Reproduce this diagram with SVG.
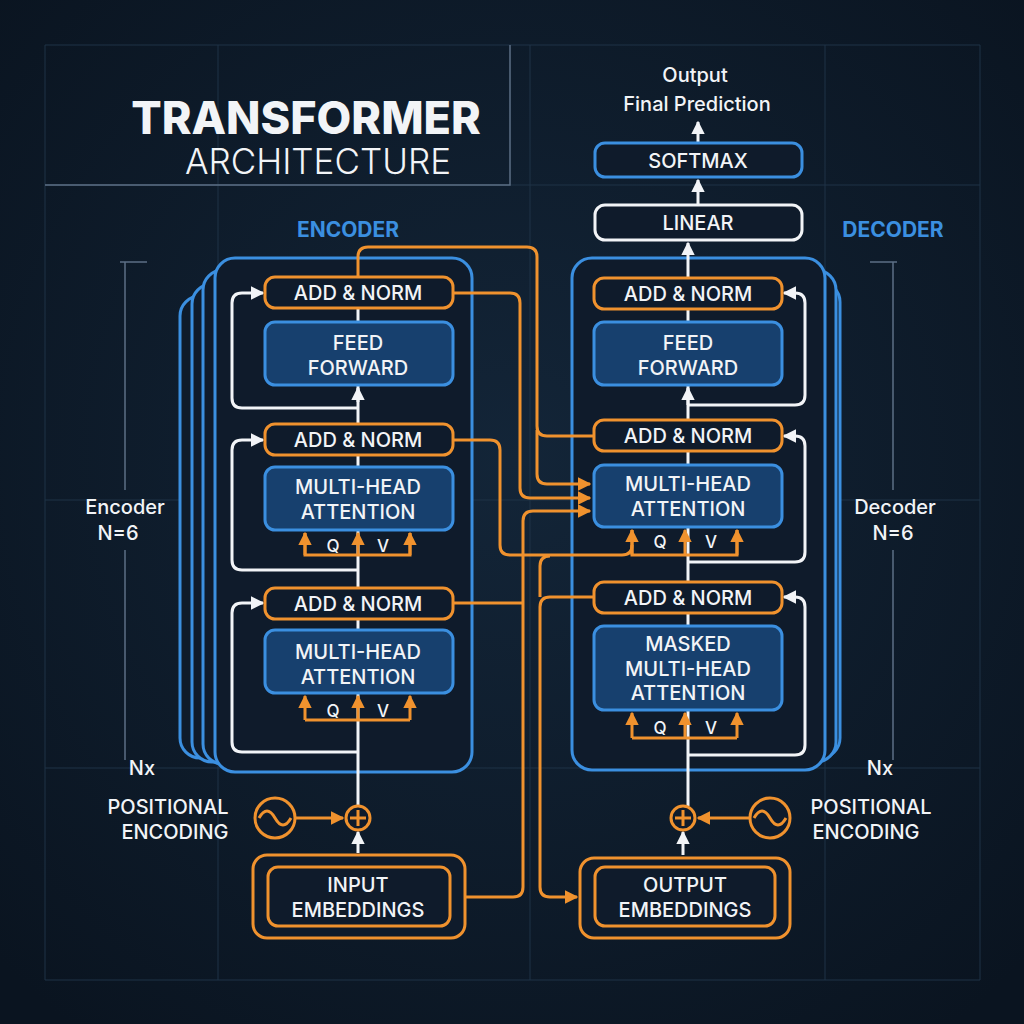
<svg xmlns="http://www.w3.org/2000/svg" width="1024" height="1024" viewBox="0 0 1024 1024">
<defs>
<style>
text{font-family:"Inter","Liberation Sans",sans-serif;fill:#f2f4f7;text-anchor:middle;font-weight:500}
.lbl{font-size:20px}
.side{font-size:20px}
.an{fill:#0f1b2b;stroke:#f0922e;stroke-width:3}
.bl{fill:#17406e;stroke:#3b8fe0;stroke-width:3}
.stk{fill:#0f1b2b;stroke:#3b8fe0;stroke-width:3}
.o{fill:none;stroke:#f0922e;stroke-width:3}
.w{fill:none;stroke:#f2f4f7;stroke-width:3}
.g{stroke:#1f3247;stroke-width:1}
.gb{stroke:#5c6f85;stroke-width:1.5;fill:none}
</style>
<marker id="ao" viewBox="0 0 10 10" refX="9" refY="5" markerWidth="4.5" markerHeight="4.5" orient="auto"><path d="M0,0L10,5L0,10z" fill="#f0922e"/></marker>
<marker id="aw" viewBox="0 0 10 10" refX="9" refY="5" markerWidth="4.5" markerHeight="4.5" orient="auto"><path d="M0,0L10,5L0,10z" fill="#f2f4f7"/></marker>
<radialGradient id="bg" cx="50%" cy="45%" r="70%"><stop offset="0" stop-color="#132538"/><stop offset="1" stop-color="#0a1420"/></radialGradient>
</defs>
<rect width="1024" height="1024" fill="url(#bg)"/>
<g id="grid">
<path class="g" d="M45 185H980M45 500H980M45 768H980M218 45V980M530 45V980M825 45V980M45 45H980V980H45Z" fill="none"/>
<path class="gb" d="M45 185H510V45"/>
</g>
<g id="title">
<text x="306" y="134" style="font-size:45px;font-weight:800">TRANSFORMER</text>
<text x="318" y="174" style="font-size:35px;font-weight:300">ARCHITECTURE</text>
</g>
<g id="enc-label"><text x="348" y="237" style="font-size:21px;font-weight:700;fill:#3b8fe0">ENCODER</text></g>
<g id="dec-label"><text x="893" y="237" style="font-size:21px;font-weight:700;fill:#3b8fe0">DECODER</text></g>
<g id="enc-side">
<path class="gb" d="M120 262H147M125 262V490M125 550V760"/>
<text class="side" x="125" y="514">Encoder</text><text class="side" x="118" y="540">N=6</text>
<text class="side" x="142" y="775">Nx</text>
</g>
<g id="dec-side">
<path class="gb" d="M870 262H897M893 262V490M893 550V760"/>
<text class="side" x="895" y="514">Decoder</text><text class="side" x="893" y="540">N=6</text>
<text class="side" x="880" y="775">Nx</text>
</g>
<g id="enc-stack">
<rect class="stk" x="180" y="296" width="260" height="462" rx="20"/>
<rect class="stk" x="192" y="284" width="265" height="478" rx="20"/>
<rect class="stk" x="203" y="270" width="268" height="494" rx="20"/>
<rect class="stk" x="215" y="258" width="257" height="514" rx="20"/>
</g>
<g id="dec-stack">
<rect class="stk" x="585" y="282" width="255" height="476" rx="20"/>
<rect class="stk" x="578" y="270" width="258" height="492" rx="20"/>
<rect class="stk" x="572" y="258" width="253" height="512" rx="20"/>
</g>
<g id="connectors">
<path class="w" d="M358 806V308"/>
<path class="w" d="M358 402V388" marker-end="url(#aw)"/>
<path class="w" d="M358 408H242Q232 408 232 398V303Q232 293 242 293H263" marker-end="url(#aw)"/>
<path class="w" d="M358 570H242Q232 570 232 560V450Q232 440 242 440H263" marker-end="url(#aw)"/>
<path class="w" d="M358 752H242Q232 752 232 742V613Q232 603 242 603H263" marker-end="url(#aw)"/>
<path class="w" d="M358 853V832" marker-end="url(#aw)"/>
<path class="w" d="M688 806V308"/>
<path class="w" d="M688 278V243" marker-end="url(#aw)"/>
<path class="w" d="M688 405V388" marker-end="url(#aw)"/>
<path class="w" d="M698 205V180" marker-end="url(#aw)"/>
<path class="w" d="M698 143V122" marker-end="url(#aw)"/>
<path class="w" d="M688 405H795Q805 405 805 395V303Q805 293 795 293H784" marker-end="url(#aw)"/>
<path class="w" d="M688 562H795Q805 562 805 552V446Q805 436 795 436H784" marker-end="url(#aw)"/>
<path class="w" d="M688 755H795Q805 755 805 745V607Q805 597 795 597H784" marker-end="url(#aw)"/>
<path class="w" d="M683 855V832" marker-end="url(#aw)"/>
<path class="o" d="M296 818H343" marker-end="url(#ao)"/>
<path class="o" d="M749 818H698" marker-end="url(#ao)"/>
<path class="o" d="M305 533V555H410V533"/>
<path class="o" d="M305 555V533" marker-end="url(#ao)"/>
<path class="o" d="M358 555V533" marker-end="url(#ao)"/>
<path class="o" d="M410 555V533" marker-end="url(#ao)"/>
<path class="o" d="M305 720H410"/>
<path class="o" d="M305 720V696" marker-end="url(#ao)"/>
<path class="o" d="M358 720V696" marker-end="url(#ao)"/>
<path class="o" d="M410 720V696" marker-end="url(#ao)"/>
<path class="o" d="M632 530V555H737V530"/>
<path class="o" d="M632 555V530" marker-end="url(#ao)"/>
<path class="o" d="M685 555V530" marker-end="url(#ao)"/>
<path class="o" d="M737 555V530" marker-end="url(#ao)"/>
<path class="o" d="M632 738H737"/>
<path class="o" d="M632 738V713" marker-end="url(#ao)"/>
<path class="o" d="M685 738V713" marker-end="url(#ao)"/>
<path class="o" d="M737 738V713" marker-end="url(#ao)"/>
<path class="o" d="M358 277V257Q358 247 368 247H527Q537 247 537 257V426Q537 436 547 436H594"/>
<path class="o" d="M537 430V474Q537 484 547 484H590" marker-end="url(#ao)"/>
<path class="o" d="M453 293H510Q520 293 520 303V488Q520 498 530 498H590" marker-end="url(#ao)"/>
<path class="o" d="M453 440H490Q500 440 500 450V545Q500 555 510 555H622Q632 555 632 545"/>
<path class="o" d="M465 897H513Q523 897 523 887V521Q523 511 533 511H590" marker-end="url(#ao)"/>
<path class="o" d="M453 603H523"/>
<path class="o" d="M594 597H550Q540 597 540 607V887Q540 897 550 897H577" marker-end="url(#ao)"/>
<path class="o" d="M540 597V566Q540 556 550 556"/>
</g>
<g id="enc-addnorm3"><rect class="an" x="265" y="277" width="188" height="31" rx="10"/><text class="lbl" x="358" y="300">ADD &amp; NORM</text></g>
<g id="enc-ff"><rect class="bl" x="265" y="322" width="188" height="63" rx="10"/><text class="lbl" x="358" y="350">FEED</text><text class="lbl" x="358" y="375">FORWARD</text></g>
<g id="enc-addnorm2"><rect class="an" x="265" y="424" width="188" height="31" rx="10"/><text class="lbl" x="358" y="447">ADD &amp; NORM</text></g>
<g id="enc-mha2"><rect class="bl" x="265" y="467" width="188" height="63" rx="10"/><text class="lbl" x="358" y="494">MULTI-HEAD</text><text class="lbl" x="358" y="519">ATTENTION</text></g>
<g id="enc-qv1"><text class="lbl" x="333" y="552" style="font-size:17px">Q</text><text class="lbl" x="383" y="552" style="font-size:17px">V</text></g>
<g id="enc-addnorm1"><rect class="an" x="265" y="588" width="188" height="31" rx="10"/><text class="lbl" x="358" y="611">ADD &amp; NORM</text></g>
<g id="enc-mha1"><rect class="bl" x="265" y="630" width="188" height="63" rx="10"/><text class="lbl" x="358" y="659">MULTI-HEAD</text><text class="lbl" x="358" y="684">ATTENTION</text></g>
<g id="enc-qv2"><text class="lbl" x="333" y="717" style="font-size:17px">Q</text><text class="lbl" x="383" y="717" style="font-size:17px">V</text></g>
<g id="enc-plus"><circle cx="358" cy="818" r="12" fill="#0f1b2b" stroke="#f0922e" stroke-width="3"/><path class="o" d="M350 818H366M358 810V826"/></g>
<g id="enc-pe"><circle cx="275" cy="818" r="20" fill="#0f1b2b" stroke="#f0922e" stroke-width="3"/><path class="o" d="M259 818Q267 804 275 818T291 818"/>
<text class="lbl" x="168" y="814">POSITIONAL</text><text class="lbl" x="175" y="839">ENCODING</text></g>
<g id="enc-emb"><rect class="an" x="253" y="855" width="212" height="83" rx="14"/><rect class="an" x="268" y="867" width="182" height="59" rx="10"/><text class="lbl" x="358" y="892">INPUT</text><text class="lbl" x="358" y="917">EMBEDDINGS</text></g>
<g id="dec-addnorm3"><rect class="an" x="594" y="278" width="188" height="31" rx="10"/><text class="lbl" x="688" y="301">ADD &amp; NORM</text></g>
<g id="dec-ff"><rect class="bl" x="594" y="322" width="188" height="63" rx="10"/><text class="lbl" x="688" y="350">FEED</text><text class="lbl" x="688" y="375">FORWARD</text></g>
<g id="dec-addnorm2"><rect class="an" x="594" y="420" width="188" height="31" rx="10"/><text class="lbl" x="688" y="443">ADD &amp; NORM</text></g>
<g id="dec-mha"><rect class="bl" x="594" y="465" width="188" height="62" rx="10"/><text class="lbl" x="688" y="491">MULTI-HEAD</text><text class="lbl" x="688" y="516">ATTENTION</text></g>
<g id="dec-qv1"><text class="lbl" x="660" y="548" style="font-size:17px">Q</text><text class="lbl" x="711" y="548" style="font-size:17px">V</text></g>
<g id="dec-addnorm1"><rect class="an" x="594" y="582" width="188" height="31" rx="10"/><text class="lbl" x="688" y="605">ADD &amp; NORM</text></g>
<g id="dec-mmha"><rect class="bl" x="594" y="626" width="188" height="84" rx="10"/><text class="lbl" x="688" y="651">MASKED</text><text class="lbl" x="688" y="676">MULTI-HEAD</text><text class="lbl" x="688" y="700">ATTENTION</text></g>
<g id="dec-qv2"><text class="lbl" x="660" y="734" style="font-size:17px">Q</text><text class="lbl" x="711" y="734" style="font-size:17px">V</text></g>
<g id="dec-plus"><circle cx="683" cy="818" r="12" fill="#0f1b2b" stroke="#f0922e" stroke-width="3"/><path class="o" d="M675 818H691M683 810V826"/></g>
<g id="dec-pe"><circle cx="770" cy="818" r="20" fill="#0f1b2b" stroke="#f0922e" stroke-width="3"/><path class="o" d="M754 818Q762 804 770 818T786 818"/>
<text class="lbl" x="871" y="814">POSITIONAL</text><text class="lbl" x="866" y="839">ENCODING</text></g>
<g id="dec-emb"><rect class="an" x="580" y="858" width="210" height="80" rx="14"/><rect class="an" x="595" y="867" width="180" height="59" rx="10"/><text class="lbl" x="685" y="892">OUTPUT</text><text class="lbl" x="685" y="917">EMBEDDINGS</text></g>
<g id="linear"><rect x="595" y="205" width="207" height="35" rx="10" fill="#0f1b2b" stroke="#f2f4f7" stroke-width="3"/><text class="lbl" x="698" y="230">LINEAR</text></g>
<g id="softmax"><rect class="bl" x="595" y="143" width="207" height="34" rx="10" style="fill:#0f1b2b"/><text class="lbl" x="698" y="168">SOFTMAX</text></g>
<g id="output"><text class="lbl" x="695" y="82">Output</text><text class="lbl" x="697" y="111">Final Prediction</text></g>
</svg>
